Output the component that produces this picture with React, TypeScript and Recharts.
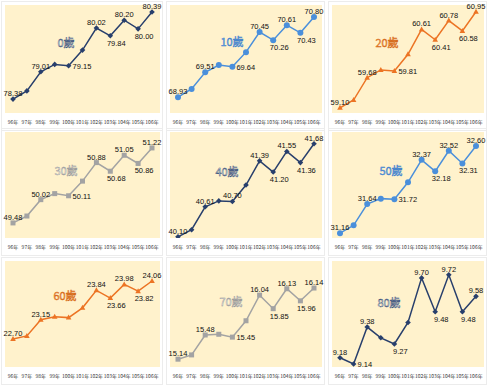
import React from 'react';
import { LineChart, Line, XAxis, YAxis, CartesianGrid, LabelList } from 'recharts';

const years = ['96年', '97年', '98年', '99年', '100年', '101年', '102年', '103年', '104年', '105年', '106年'];

const titles = ['0歲', '10歲', '20歲', '30歲', '40歲', '50歲', '60歲', '70歲', '80歲'];

const age0 = [78.38, 78.57, 79.01, 79.18, 79.15, 79.51, 80.02, 79.84, 80.2, 80.0, 80.39];
const age10 = [68.93, 69.12, 69.51, 69.68, 69.64, 69.98, 70.45, 70.26, 70.61, 70.43, 70.8];
const age20 = [59.1, 59.25, 59.68, 59.83, 59.81, 60.13, 60.61, 60.41, 60.78, 60.58, 60.95];
const age30 = [49.48, 49.64, 50.02, 50.16, 50.11, 50.45, 50.88, 50.68, 51.05, 50.86, 51.22];
const age40 = [40.1, 40.22, 40.61, 40.71, 40.7, 40.98, 41.39, 41.2, 41.55, 41.36, 41.68];
const age50 = [31.16, 31.29, 31.64, 31.73, 31.72, 32.0, 32.37, 32.18, 32.52, 32.31, 32.6];
const age60 = [22.7, 22.77, 23.15, 23.22, 23.2, 23.43, 23.84, 23.66, 23.98, 23.82, 24.06];
const age70 = [15.14, 15.2, 15.48, 15.49, 15.45, 15.68, 16.04, 15.85, 16.13, 15.96, 16.14];
const age80 = [9.18, 9.14, 9.38, 9.31, 9.27, 9.41, 9.7, 9.48, 9.72, 9.48, 9.58];

const seriesList = [age0, age10, age20, age30, age40, age50, age60, age70, age80];

const NAVY = '#283f6c';
const BLUE = '#4a8fdb';
const ORANGE = '#ec7424';
const GRAY = '#a3a3a3';

type Kind = 'diamond' | 'circle' | 'triangle' | 'square';
type Place = 'top' | 'bottom' | 'right' | null;

const common: Place[] = ['top', null, 'top', null, 'right', null, 'top', 'bottom', 'top', 'bottom', 'top'];
const p40: Place[] = ['top', null, 'top', null, 'top', null, 'top', 'bottom', 'top', 'bottom', 'top'];
const p60: Place[] = ['top', null, 'top', null, null, null, 'top', 'bottom', 'top', 'bottom', 'top'];
const p80: Place[] = ['top', 'right', 'top', null, 'bottom', null, 'top', 'bottom', 'top', 'bottom', 'top'];

interface PanelCfg {
  color: string;
  kind: Kind;
  domain: [number, number];
  places: Place[];
  box: { x: number; y: number; w: number; h: number };
  title: { x: number; y: number; fill: string; stroke: string };
}

const panels: PanelCfg[] = [
  { color: NAVY, kind: 'diamond', domain: [78.06, 80.55], places: common, box: { x: 5, y: 5, w: 155, h: 108 }, title: { x: 66, y: 42, fill: '#eef1f8', stroke: NAVY } },
  { color: BLUE, kind: 'circle', domain: [68.56, 71.08], places: common, box: { x: 170, y: 5, w: 152, h: 108 }, title: { x: 232, y: 41, fill: '#6aa6e6', stroke: '#3a7bc8' } },
  { color: ORANGE, kind: 'triangle', domain: [59.0, 61.08], places: common, box: { x: 332, y: 5, w: 152, h: 108 }, title: { x: 387, y: 42, fill: '#f39a55', stroke: '#d0600a' } },
  { color: GRAY, kind: 'square', domain: [49.13, 51.59], places: common, box: { x: 5, y: 132, w: 155, h: 106 }, title: { x: 66, y: 170, fill: '#f8f8f8', stroke: '#8c8c8c' } },
  { color: NAVY, kind: 'diamond', domain: [40.08, 41.88], places: p40, box: { x: 170, y: 132, w: 152, h: 106 }, title: { x: 227, y: 171, fill: '#eef1f8', stroke: NAVY } },
  { color: BLUE, kind: 'circle', domain: [31.08, 32.83], places: common, box: { x: 332, y: 132, w: 152, h: 106 }, title: { x: 391, y: 170, fill: '#6aa6e6', stroke: '#3a7bc8' } },
  { color: ORANGE, kind: 'triangle', domain: [22.04, 24.53], places: p60, box: { x: 5, y: 261, w: 155, h: 106 }, title: { x: 65, y: 295, fill: '#f39a55', stroke: '#d0600a' } },
  { color: GRAY, kind: 'square', domain: [15.03, 16.52], places: common, box: { x: 170, y: 261, w: 152, h: 106 }, title: { x: 231, y: 301, fill: '#f8f8f8', stroke: '#8c8c8c' } },
  { color: NAVY, kind: 'diamond', domain: [9.12, 9.81], places: p80, box: { x: 332, y: 261, w: 152, h: 106 }, title: { x: 389, y: 302, fill: '#eef1f8', stroke: NAVY } },
];

const makeDot = (kind: Kind, color: string) => (props: any) => {
  const { cx, cy, index } = props;
  if (cx == null || cy == null) return <g key={`d${index}`} />;
  if (kind === 'diamond')
    return <path key={`d${index}`} d={`M${cx},${cy - 2.8}L${cx + 2.8},${cy}L${cx},${cy + 2.8}L${cx - 2.8},${cy}Z`} fill={color} />;
  if (kind === 'circle') return <circle key={`d${index}`} cx={cx} cy={cy} r={3} fill={color} />;
  if (kind === 'triangle')
    return <path key={`d${index}`} d={`M${cx},${cy - 3}L${cx + 2.8},${cy + 2}L${cx - 2.8},${cy + 2}Z`} fill={color} />;
  return <rect key={`d${index}`} x={cx - 2.5} y={cy - 2.5} width={5} height={5} fill={color} />;
};

const makeLabel = (places: Place[]) => (props: any) => {
  const { x, y, value, index } = props;
  const p = places[index];
  if (!p || x == null || y == null) return null;
  let tx = x;
  let ty = y;
  let anchor: 'middle' | 'start' = 'middle';
  if (p === 'top') {
    ty = y - 3;
  } else if (p === 'bottom') {
    tx = x + 6;
    ty = y + 10;
  } else {
    tx = x + 4;
    ty = y + 3;
    anchor = 'start';
  }
  return (
    <text x={tx} y={ty} textAnchor={anchor} fontSize={7.5} fill="#111" fontFamily="'Liberation Sans', Arial, sans-serif">
      {Number(value).toFixed(2)}
    </text>
  );
};

function Panel({ cfg, values, title }: { cfg: PanelCfg; values: number[]; title: string }) {
  const rows = years.map((year, i) => ({ year, v: values[i] }));
  const { box } = cfg;
  return (
    <>
      <div
        style={{
          position: 'absolute',
          left: box.x - 4,
          top: box.y - 4,
          width: box.w + 7,
          height: box.h + 22,
          border: '1px solid #ececec',
          boxSizing: 'border-box',
        }}
      />
      <div style={{ position: 'absolute', left: box.x, top: box.y }}>
        <LineChart width={box.w} height={box.h + 18} data={rows} margin={{ top: 0, right: 0, bottom: 0, left: 0 }}>
          <CartesianGrid fill="#FFF2CC" stroke="none" horizontal={false} vertical={false} />
          <XAxis
            dataKey="year"
            interval={0}
            tickLine={false}
            axisLine={false}
            tickSize={3}
            tickMargin={4}
            height={18}
            padding={{ left: 8, right: 8 }}
            tick={{ fontSize: 5, fill: '#333', fontFamily: "'Noto Sans CJK TC', sans-serif" }}
          />
          <YAxis hide type="number" domain={cfg.domain} allowDataOverflow />
          <Line
            type="linear"
            dataKey="v"
            stroke={cfg.color}
            strokeWidth={1.5}
            dot={makeDot(cfg.kind, cfg.color)}
            activeDot={false}
            isAnimationActive={false}
          >
            <LabelList dataKey="v" content={makeLabel(cfg.places)} />
          </Line>
        </LineChart>
      </div>
      <div
        style={{
          position: 'absolute',
          left: cfg.title.x,
          top: cfg.title.y,
          transform: 'translate(-50%, -50%)',
          fontSize: 11,
          lineHeight: '12px',
          fontFamily: "'Noto Sans CJK TC', sans-serif",
          color: cfg.title.fill,
          WebkitTextStroke: `0.4px ${cfg.title.stroke}`,
          whiteSpace: 'nowrap',
        }}
      >
        {title}
      </div>
    </>
  );
}

export default function App() {
  return (
    <div style={{ position: 'absolute', left: 0, top: 0, width: 500, height: 390, background: '#fff', overflow: 'hidden' }}>
      <style>{`.recharts-surface { overflow: visible; } .recharts-wrapper { overflow: visible; }`}</style>
      {panels.map((cfg, i) => (
        <Panel key={i} cfg={cfg} values={seriesList[i]} title={titles[i]} />
      ))}
    </div>
  );
}
